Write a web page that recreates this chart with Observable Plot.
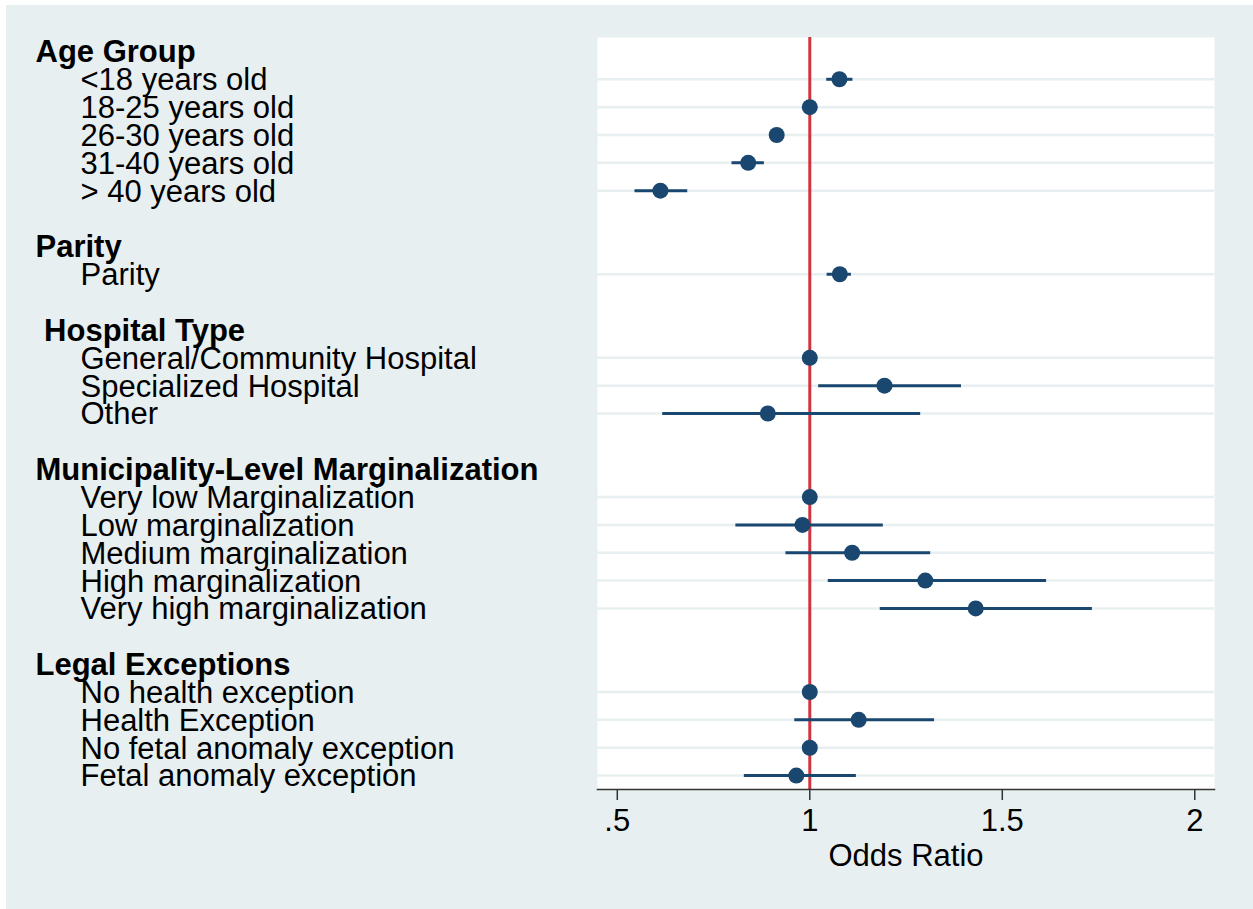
<!DOCTYPE html>
<html>
<head>
<meta charset="utf-8">
<script src="https://cdn.jsdelivr.net/npm/d3@7"></script>
<script src="https://cdn.jsdelivr.net/npm/@observablehq/plot@0.6"></script>
<style>
  html, body { margin: 0; padding: 0; background: #ffffff; }
  #chart { position: absolute; left: 6px; top: 5px; }
  #chart svg text { white-space: pre; }
</style>
</head>
<body>
<div id="chart"></div>
<script>
// ---- Data ----
const groupNames = ["Age Group", "Parity", " Hospital Type", "Municipality-Level Marginalization", "Legal Exceptions"];
const categories = [
  "<18 years old", "18-25 years old", "26-30 years old", "31-40 years old", "> 40 years old",
  "Parity",
  "General/Community Hospital", "Specialized Hospital", "Other",
  "Very low Marginalization", "Low marginalization", "Medium marginalization", "High marginalization", "Very high marginalization",
  "No health exception", "Health Exception", "No fetal anomaly exception", "Fetal anomaly exception"
];
const categoryGroup = [0, 0, 0, 0, 0, 1, 2, 2, 2, 3, 3, 3, 3, 3, 4, 4, 4, 4];
const oddsRatio = [1.077, 1, 0.914, 0.840, 0.612, 1.078, 1, 1.194, 0.891, 1, 0.981, 1.110, 1.300, 1.431, 1, 1.127, 1, 0.965];
const ciLow  = [1.044, null, 0.897, 0.798, 0.546, 1.045, null, 1.023, 0.618, null, 0.808, 0.938, 1.048, 1.183, null, 0.961, null, 0.830];
const ciHigh = [1.112, null, 0.932, 0.882, 0.683, 1.108, null, 1.394, 1.288, null, 1.191, 1.314, 1.615, 1.734, null, 1.324, null, 1.121];
const tickValues = [0.5, 1, 1.5, 2];
const tickLabels = [".5", "1", "1.5", "2"];
const referenceValue = [1];
const axisTitle = "Odds Ratio";

// ---- Build row table ----
const rows = [];
let idx = 0;
groupNames.forEach((g, gi) => {
  if (gi > 0) idx++; // blank spacer row
  rows.push({row: idx++, label: g, header: true});
  categories.forEach((c, i) => {
    if (categoryGroup[i] === gi) {
      rows.push({row: idx++, label: c, header: false, or: oddsRatio[i], lo: ciLow[i], hi: ciHigh[i]});
    }
  });
});
const nRows = idx;
const items = rows.filter(d => !d.header);
const headers = rows.filter(d => d.header);
const withCI = items.filter(d => d.lo != null);

const navy = "#1a476f";
const red = "#d0343f";
const bg = "#e8eff0";
const font = "'Liberation Sans', Arial, Helvetica, sans-serif";
const fs = 31;

const plot = Plot.plot({
  width: 1247,
  height: 904,
  marginLeft: 591,
  marginRight: 39,
  marginTop: 32,
  marginBottom: 120,
  style: {background: bg, fontFamily: font, fontSize: fs + "px", color: "#000"},
  x: {domain: [0.4486, 2.0512], axis: null},
  y: {domain: [-0.5, nRows - 0.5], reverse: true, axis: null},
  marks: [
    Plot.frame({fill: "white", stroke: "none"}),
    Plot.ruleY(items, {y: "row", stroke: bg, strokeWidth: 2.5}),
    Plot.ruleX(referenceValue, {stroke: red, strokeWidth: 3}),
    Plot.ruleY(withCI, {y: "row", x1: "lo", x2: "hi", stroke: navy, strokeWidth: 3}),
    Plot.dot(items, {x: "or", y: "row", r: 8, fill: navy, stroke: "none"}),
    Plot.frame({anchor: "bottom", stroke: "#333", strokeWidth: 1.5}),
    Plot.axisX({ticks: tickValues, tickFormat: (d) => tickLabels[tickValues.indexOf(d)], tickSize: 11, tickPadding: 8, stroke: "#333", strokeWidth: 1.5, fill: "#000", fontSize: fs, label: null}),
    Plot.text([axisTitle], {frameAnchor: "bottom", dy: 76, fontSize: fs, fill: "#000"}),
    Plot.text(headers, {y: "row", text: "label", frameAnchor: "left", textAnchor: "start", dx: -562, dy: 1, fontWeight: "bold", fontSize: fs, fill: "#000"}),
    Plot.text(items, {y: "row", text: "label", frameAnchor: "left", textAnchor: "start", dx: -517, dy: 1, fontSize: fs, fill: "#000"})
  ]
});
document.getElementById("chart").appendChild(plot);
</script>
</body>
</html>
